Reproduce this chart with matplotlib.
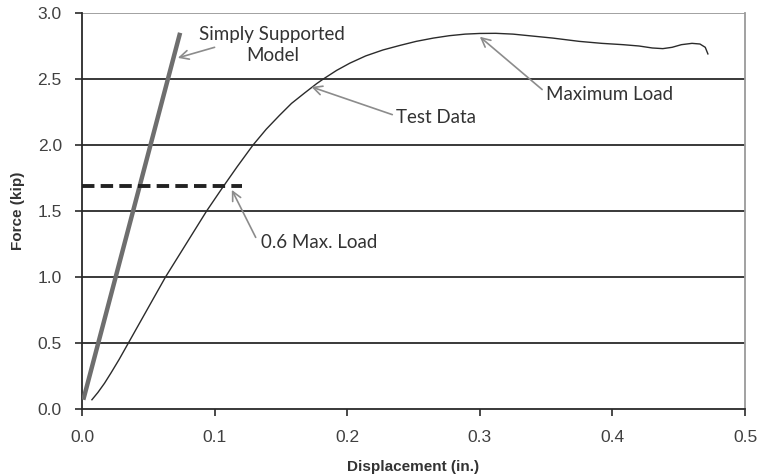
import matplotlib
matplotlib.use("Agg")
import matplotlib.pyplot as plt

# Test data curve
test_x = [0.0075, 0.012, 0.017, 0.022, 0.028, 0.035, 0.042, 0.049, 0.056, 0.063, 0.0785,
          0.094, 0.1055, 0.117, 0.129, 0.139, 0.149, 0.158, 0.168, 0.177, 0.182, 0.192,
          0.202, 0.214, 0.227, 0.240, 0.252, 0.265, 0.277, 0.289, 0.300, 0.312, 0.325,
          0.340, 0.355, 0.375, 0.392, 0.408, 0.420, 0.430, 0.438, 0.445, 0.452, 0.460,
          0.466, 0.470, 0.472]
test_y = [0.07, 0.125, 0.195, 0.275, 0.375, 0.50, 0.625, 0.75, 0.875, 1.00, 1.25,
          1.50, 1.67, 1.835, 2.00, 2.12, 2.225, 2.315, 2.395, 2.465, 2.50, 2.565,
          2.62, 2.675, 2.72, 2.755, 2.785, 2.81, 2.828, 2.84, 2.845, 2.846, 2.84,
          2.825, 2.81, 2.785, 2.77, 2.76, 2.75, 2.735, 2.73, 2.74, 2.76, 2.77,
          2.765, 2.74, 2.69]

# Simply supported model line
model_x = [0.001, 0.074]
model_y = [0.07, 2.85]

# 0.6 max load line
max06_x = [0.0, 0.121]
max06_y = [1.69, 1.69]

xticks = [0.0, 0.1, 0.2, 0.3, 0.4, 0.5]
yticks = [0.0, 0.5, 1.0, 1.5, 2.0, 2.5, 3.0]

fig = plt.figure(figsize=(7.59, 4.76), dpi=100)
ax = fig.add_axes([0.108, 0.1408, 0.8736, 0.8319])

for yv in yticks[1:-1]:
    ax.axhline(yv, color="#2a2a2a", lw=1.3, zorder=1)
ax.axhline(3.0, color="#9a9a9a", lw=1.3, zorder=1)

ax.plot(model_x, model_y, color="#6e6e6e", lw=3.2, solid_capstyle="butt", zorder=3)
ax.plot(test_x, test_y, color="#2b2b2b", lw=1.0, zorder=3)
ax.plot(max06_x, max06_y, color="#222222", lw=2.8, dashes=(3.2, 1.6), zorder=3)

ax.set_xlim(0, 0.5)
ax.set_ylim(0, 3.0)
ax.set_xticks(xticks)
ax.set_yticks(yticks)
ax.set_xticklabels([f"{v:.1f}" for v in xticks])
ax.set_yticklabels([f"{v:.1f}" for v in yticks])

tickfam = ["Liberation Sans Narrow", "Liberation Sans", "DejaVu Sans"]
for lab in ax.get_xticklabels() + ax.get_yticklabels():
    lab.set_fontfamily(tickfam)
    lab.set_fontsize(12.5)
    lab.set_color("#404040")

ax.tick_params(axis="both", direction="out", length=5, width=1.2, color="#2a2a2a")
ax.tick_params(axis="x", pad=10)
ax.tick_params(axis="y", pad=9.5)

ax.spines["left"].set_color("#2a2a2a")
ax.spines["left"].set_linewidth(1.3)
ax.spines["bottom"].set_color("#2a2a2a")
ax.spines["bottom"].set_linewidth(1.3)
ax.spines["top"].set_visible(False)
ax.spines["right"].set_color("#9a9a9a")
ax.spines["right"].set_linewidth(1.3)

labfont = ["Liberation Sans Narrow", "Liberation Sans", "DejaVu Sans"]
ax.set_xlabel("Displacement (in.)", fontfamily=labfont, fontsize=11, fontweight="bold",
              color="#333333", labelpad=11)
ax.set_ylabel("Force (kip)", fontfamily=labfont, fontsize=11, fontweight="bold",
              color="#333333", labelpad=9)

annfont = ["Lato", "DejaVu Sans"]
arrow = dict(arrowstyle="->", color="#8c8c8c", lw=1.2, shrinkA=0, shrinkB=0,
             mutation_scale=16)

ax.annotate("", xy=(0.0723, 2.66), xytext=(0.100, 2.74), arrowprops=arrow)
ax.text(0.1435, 2.76, "Simply Supported\nModel", fontfamily=annfont, fontsize=13.5,
        color="#333333", ha="center", va="center", linespacing=1.3)

ax.annotate("", xy=(0.173, 2.44), xytext=(0.234, 2.23), arrowprops=arrow)
ax.text(0.237, 2.21, "Test Data", fontfamily=annfont, fontsize=13.5, color="#333333",
        ha="left", va="center")

ax.annotate("", xy=(0.300, 2.82), xytext=(0.347, 2.42), arrowprops=arrow)
ax.text(0.350, 2.38, "Maximum Load", fontfamily=annfont, fontsize=13.5, color="#333333",
        ha="left", va="center")

ax.annotate("", xy=(0.113, 1.66), xytext=(0.131, 1.30), arrowprops=arrow)
ax.text(0.135, 1.26, "0.6 Max. Load", fontfamily=annfont, fontsize=13.5, color="#333333",
        ha="left", va="center")

fig.savefig("out.png", dpi=100, facecolor="white")
